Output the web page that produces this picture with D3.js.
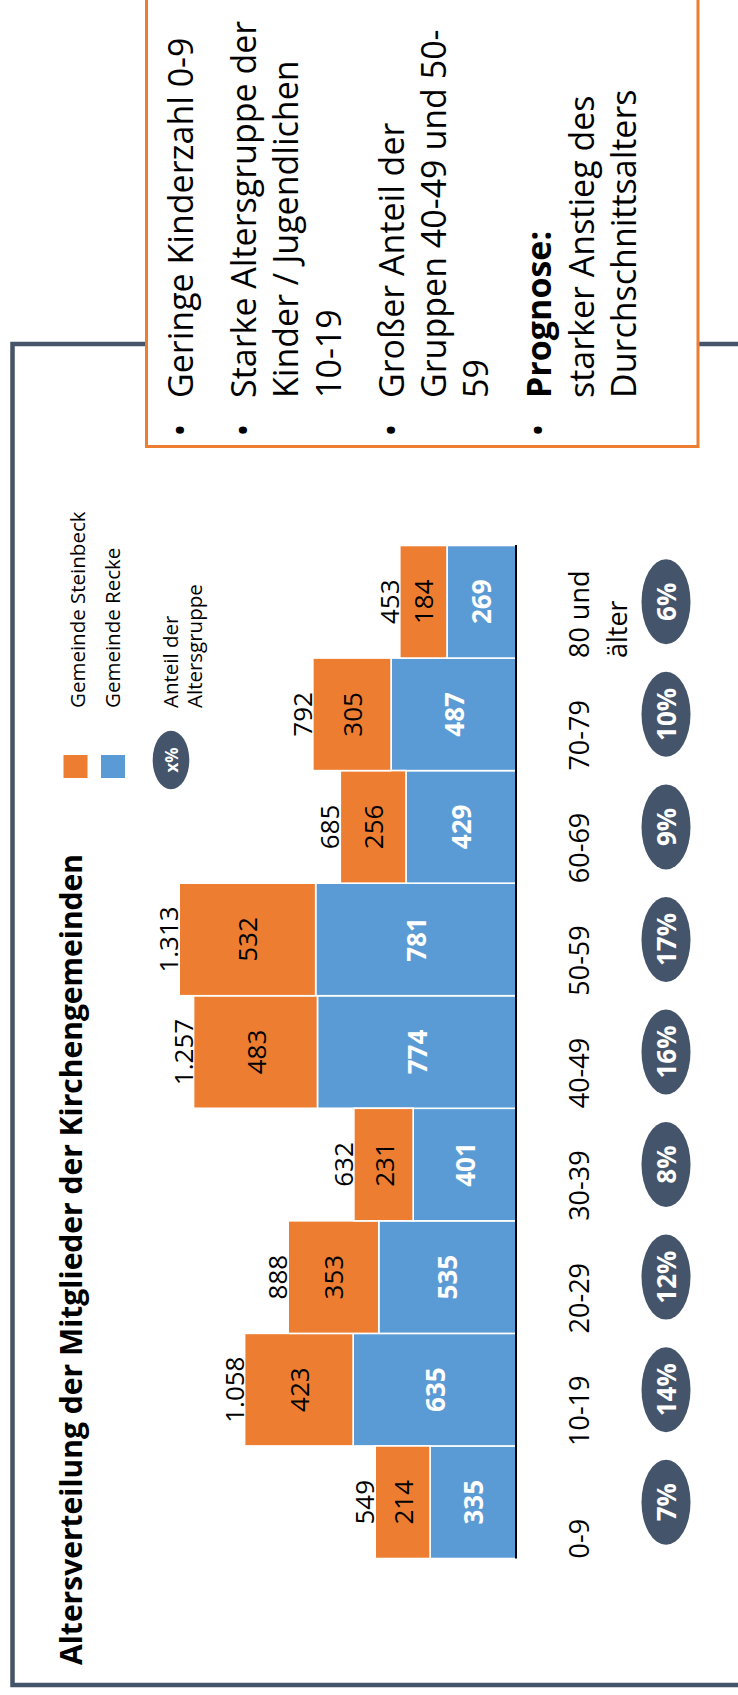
<!DOCTYPE html>
<html>
<head>
<meta charset="utf-8">
<script src="https://cdn.jsdelivr.net/npm/d3@7"></script>
<style>
  html, body { margin: 0; padding: 0; background: #fff; }
  svg { display: block; }
  text { font-family: "Open Sans", sans-serif; }
</style>
</head>
<body>
<svg id="chart" width="738" height="1695"></svg>
<script>
// Altersgruppen und Mitgliederzahlen je Gemeinde
const ageGroups = ["0-9", "10-19", "20-29", "30-39", "40-49", "50-59", "60-69", "70-79", "80 und älter"];
const steinbeck = [214, 423, 353, 231, 483, 532, 256, 305, 184];
const recke     = [335, 635, 535, 401, 774, 781, 429, 487, 269];

const seriesNames = ["Gemeinde Steinbeck", "Gemeinde Recke"];
const shareLegend = ["Anteil der", "Altersgruppe"];
const title = "Altersverteilung der Mitglieder der Kirchengemeinden";

// Textkasten: Absätze mit Zeilen
const notes = [
  [{ t: "Geringe Kinderzahl 0-9" }],
  [{ t: "Starke Altersgruppe der" }, { t: "Kinder / Jugendlichen" }, { t: "10-19" }],
  [{ t: "Großer Anteil der" }, { t: "Gruppen 40-49 und 50-" }, { t: "59" }],
  [{ t: "Prognose:", bold: true }, { t: "starker Anstieg des" }, { t: "Durchschnittsalters" }]
];

const ORANGE = "#ED7D31", BLUE = "#5B9BD5", SLATE = "#44546A";

const de = d3.formatLocale({ decimal: ",", thousands: ".", grouping: [3], currency: ["", " €"] });
const fmtTotal = de.format(",d");

const rows = ageGroups.map((g, i) => ({
  group: g,
  recke: recke[i],
  steinbeck: steinbeck[i],
  total: recke[i] + steinbeck[i]
}));
const grandTotal = d3.sum(rows, d => d.total);

const svg = d3.select("#chart");

// rotated text helper: reads bottom-to-top
function vtext(sel, x, y) {
  return sel.append("text").attr("transform", `translate(${x},${y}) rotate(-90)`);
}

// outer frame
svg.append("rect")
  .attr("x", 12.5).attr("y", 344)
  .attr("width", 728).attr("height", 1341)
  .attr("fill", "none").attr("stroke", SLATE).attr("stroke-width", 4.5);

// notes box
svg.append("rect")
  .attr("x", 146.5).attr("y", -10)
  .attr("width", 551.5).attr("height", 456.5)
  .attr("fill", "#fff").attr("stroke", ORANGE).attr("stroke-width", 3);

const lineStep = 42.3, paraGap = 20.7;
let bx = 193;
notes.forEach((para, pi) => {
  if (pi > 0) bx += lineStep + paraGap;
  para.forEach((line, li) => {
    if (li > 0) bx += lineStep;
    if (li === 0) {
      vtext(svg, bx, 436.5).text("•")
        .attr("font-size", 34).attr("fill", "#000");
    }
    vtext(svg, bx, 398).text(line.t)
      .attr("font-size", 34)
      .attr("font-weight", line.bold ? 700 : 400)
      .attr("fill", "#000");
  });
});

// title
vtext(svg, 82, 1665).text(title)
  .attr("font-family", "Lato, sans-serif")
  .attr("font-weight", 700)
  .attr("font-size", 30)
  .attr("fill", "#000");

// scales (bars grow leftward from the base line)
const baseX = 516;
const x = d3.scaleLinear().domain([0, 1313]).range([baseX, baseX - 336.8]);
const y = d3.scaleBand().domain(ageGroups).range([1558.5, 545.5]).padding(0);

const bars = svg.append("g");

// Recke (inner segment)
bars.selectAll("rect.recke").data(rows).join("rect")
  .attr("class", "recke")
  .attr("x", d => x(d.recke))
  .attr("y", d => y(d.group))
  .attr("width", d => x(0) - x(d.recke))
  .attr("height", y.bandwidth())
  .attr("fill", BLUE).attr("stroke", "#fff").attr("stroke-width", 1.6);

// Steinbeck (outer segment)
bars.selectAll("rect.stein").data(rows).join("rect")
  .attr("class", "stein")
  .attr("x", d => x(d.total))
  .attr("y", d => y(d.group))
  .attr("width", d => x(d.recke) - x(d.total))
  .attr("height", y.bandwidth())
  .attr("fill", ORANGE).attr("stroke", "#fff").attr("stroke-width", 1.6);

// base line
svg.append("line")
  .attr("x1", baseX).attr("x2", baseX)
  .attr("y1", 545).attr("y2", 1558.5)
  .attr("stroke", "#000").attr("stroke-width", 2);

const cy = d => y(d.group) + y.bandwidth() / 2;

// value labels
rows.forEach(d => {
  vtext(svg, (x(0) + x(d.recke)) / 2, cy(d)).text(d.recke)
    .attr("text-anchor", "middle").attr("dominant-baseline", "central")
    .attr("font-size", 26).attr("font-weight", 700).attr("fill", "#fff");
  vtext(svg, (x(d.recke) + x(d.total)) / 2, cy(d)).text(d.steinbeck)
    .attr("text-anchor", "middle").attr("dominant-baseline", "central")
    .attr("font-size", 26).attr("fill", "#000");
  vtext(svg, x(d.total) - 1, cy(d)).text(fmtTotal(d.total))
    .attr("text-anchor", "middle")
    .attr("font-size", 26).attr("fill", "#000");
});

// category labels
rows.forEach(d => {
  const bottom = y(d.group) + y.bandwidth();
  const parts = d.group === "80 und älter" ? ["80 und", "älter"] : [d.group];
  parts.forEach((p, i) => {
    vtext(svg, 589 + i * 38, bottom).text(p)
      .attr("font-size", 27).attr("fill", "#000");
  });
});

// share badges
const shareFmt = d3.format(".0%");
rows.forEach(d => {
  svg.append("ellipse")
    .attr("cx", 666).attr("cy", cy(d))
    .attr("rx", 24.5).attr("ry", 42.5)
    .attr("fill", SLATE);
  vtext(svg, 666, cy(d)).text(shareFmt(d.total / grandTotal))
    .attr("text-anchor", "middle").attr("dominant-baseline", "central")
    .attr("font-size", 26).attr("font-weight", 700).attr("fill", "#fff");
});

// legend
svg.append("rect").attr("x", 63.5).attr("y", 755).attr("width", 24).attr("height", 23).attr("fill", ORANGE);
svg.append("rect").attr("x", 101).attr("y", 755).attr("width", 24).attr("height", 23).attr("fill", BLUE);
vtext(svg, 85, 708).text(seriesNames[0]).attr("font-size", 20.5).attr("fill", "#000");
vtext(svg, 120, 708).text(seriesNames[1]).attr("font-size", 20.5).attr("fill", "#000");

svg.append("ellipse").attr("cx", 171).attr("cy", 760).attr("rx", 18.3).attr("ry", 29.3).attr("fill", SLATE);
vtext(svg, 171, 760).text("x%")
  .attr("text-anchor", "middle").attr("dominant-baseline", "central")
  .attr("font-size", 17).attr("font-weight", 700).attr("fill", "#fff");
vtext(svg, 178, 708).text(shareLegend[0]).attr("font-size", 20.5).attr("fill", "#000");
vtext(svg, 202, 708).text(shareLegend[1]).attr("font-size", 20.5).attr("fill", "#000");
</script>
</body>
</html>
